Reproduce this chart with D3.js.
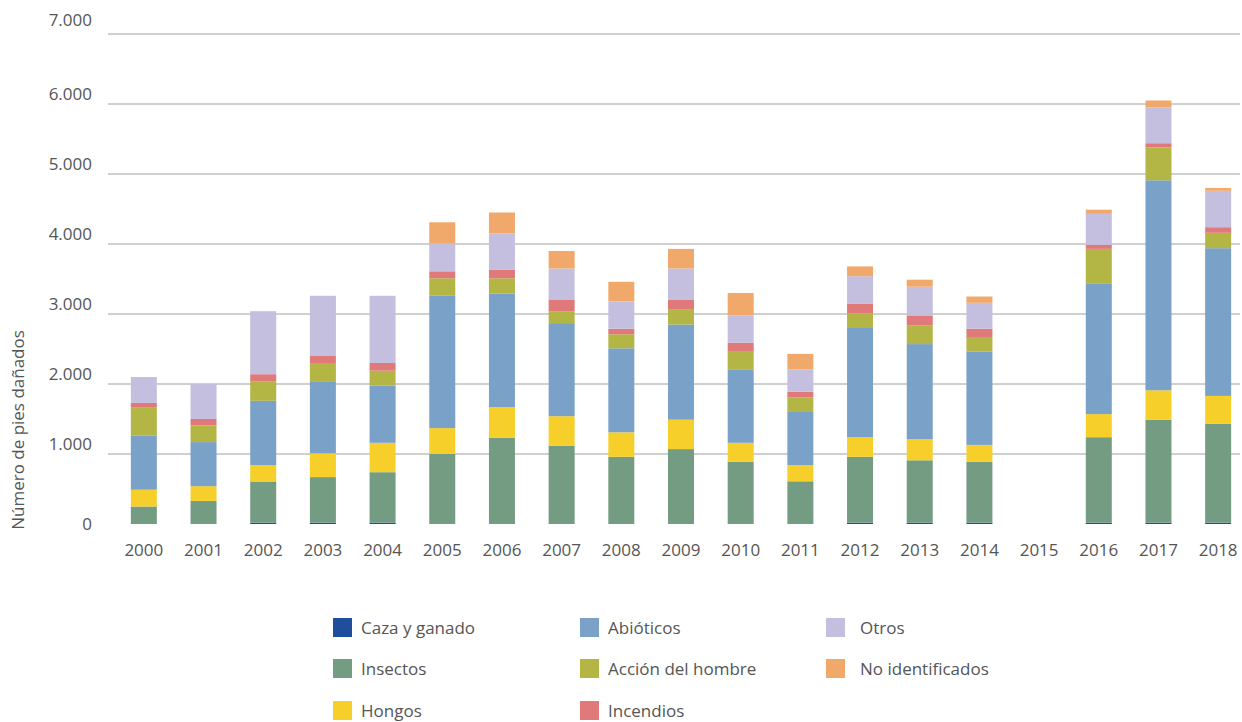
<!DOCTYPE html>
<html><head><meta charset="utf-8">
<script src="https://cdn.jsdelivr.net/npm/d3@7"></script>
<style>body{margin:0;background:#fff}text{font-family:"Open Sans",sans-serif;fill:#555}</style>
</head><body><svg id="c" width="1242" height="722"></svg>
<script>
const years=["2000","2001","2002","2003","2004","2005","2006","2007","2008","2009","2010","2011","2012","2013","2014","2015","2016","2017","2018"];
const series=["Caza y ganado","Insectos","Hongos","Abióticos","Acción del hombre","Incendios","Otros","No identificados"];
const colors=["#1f4e9c","#739c82","#f7cf2b","#7aa1c8","#b3b545","#e07a7a","#c4bedf","#f0a96a"];
const caza=[0,0,20,20,20,0,0,0,0,0,0,0,20,20,20,0,20,20,20];
const insectos=[250,330,580,650,720,1000,1230,1120,960,1070,890,610,940,890,870,0,1220,1470,1410];
const hongos=[240,210,240,340,420,370,440,420,350,420,270,230,280,300,240,0,330,420,400];
const abioticos=[770,630,920,1030,820,1890,1620,1330,1200,1360,1050,760,1560,1360,1330,0,1860,3000,2110];
const accion=[410,240,280,260,210,250,220,170,200,220,250,210,210,270,200,0,500,470,220];
const incendios=[60,90,100,100,110,100,120,160,80,130,130,80,140,140,130,0,60,60,80];
const otros=[370,500,900,860,960,400,520,450,390,450,390,320,390,410,370,0,440,510,520];
const noident=[0,0,0,0,0,300,300,250,280,280,320,220,140,100,90,0,60,100,40];
const yTicks=[0,1000,2000,3000,4000,5000,6000,7000];
const yTickLabels=["0","1.000","2.000","3.000","4.000","5.000","6.000","7.000"];
const all=[caza,insectos,hongos,abioticos,accion,incendios,otros,noident];
const rows=years.map((y,i)=>{const o={year:y};series.forEach((s,k)=>o[s]=all[k][i]);return o;});
const svg=d3.select("#c");
const x=d3.scaleBand().domain(years).range([114,1248]);
const y=d3.scaleLinear().domain([0,7000]).range([524,34]);
const grid=svg.append("g");
yTicks.filter(t=>t>0).forEach(t=>grid.append("line").attr("x1",108).attr("x2",1240).attr("y1",y(t)).attr("y2",y(t)).attr("stroke","#a0a0a0").attr("stroke-width",1));
yTicks.forEach((t,i)=>svg.append("text").attr("x",92).attr("y",y(t)-(t==0?-6:t==7000?8:4)).attr("text-anchor","end").attr("font-size",17).text(yTickLabels[i]));
const stack=d3.stack().keys(series)(rows);
const bw=26;
svg.append("g").selectAll("g").data(stack).join("g").attr("fill",(d,i)=>colors[i])
 .selectAll("rect").data(d=>d).join("rect")
 .attr("x",d=>x(d.data.year)+x.bandwidth()/2-bw/2).attr("width",bw)
 .attr("y",d=>y(d[1])).attr("height",d=>y(d[0])-y(d[1]));
years.forEach(yr=>svg.append("text").attr("x",x(yr)+x.bandwidth()/2).attr("y",556).attr("text-anchor","middle").attr("font-size",17).text(yr));
svg.append("text").attr("transform","translate(24,430) rotate(-90)").attr("text-anchor","middle").attr("font-size",17).text("Número de pies dañados");
const lx=[333,580,826],ly=[628,669,711];
const order=[[0,0],[1,0],[2,0],[0,1],[1,1],[2,1],[0,2],[1,2]];
// column-major: col0: Caza,Insectos,Hongos; col1: Abióticos,Acción,Incendios; col2: Otros,NI
const pos=[[0,0],[0,1],[0,2],[1,0],[1,1],[1,2],[2,0],[2,1]];
series.forEach((s,i)=>{const [c,r]=pos[i];
 svg.append("rect").attr("x",lx[c]).attr("y",ly[r]-10).attr("width",19).attr("height",19).attr("fill",colors[i]);
 svg.append("text").attr("x",lx[c]+(c==2?34:28)).attr("y",ly[r]+6).attr("font-size",17).text(s);});
</script></body></html>
